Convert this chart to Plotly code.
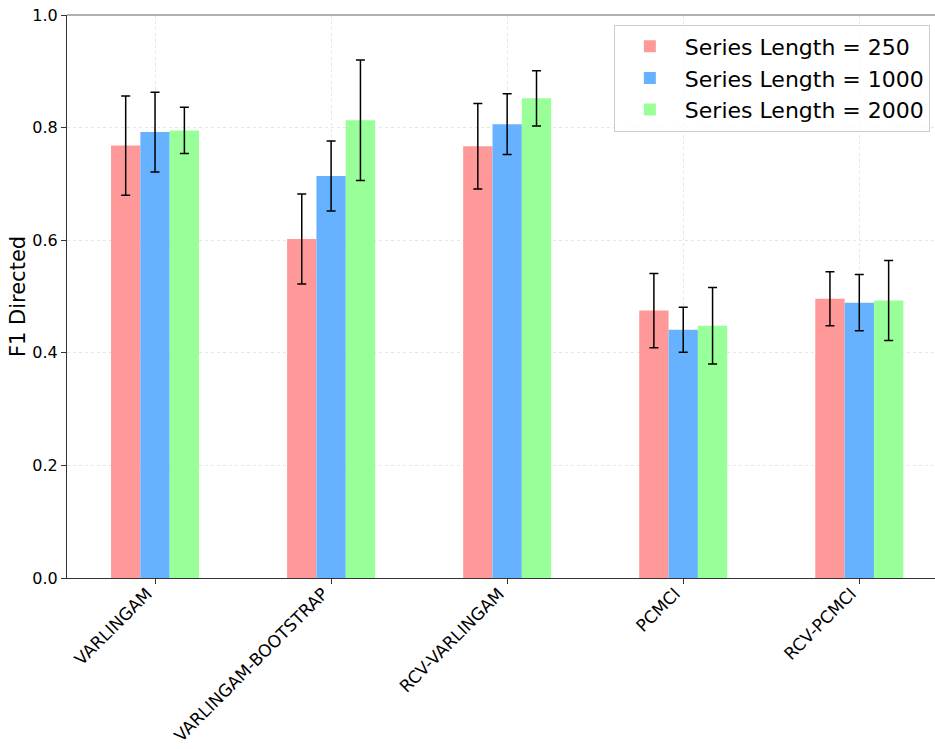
import plotly.graph_objects as go

categories = ["VARLINGAM", "VARLINGAM-BOOTSTRAP", "RCV-VARLINGAM", "PCMCI", "RCV-PCMCI"]
series_names = ["Series Length = 250", "Series Length = 1000", "Series Length = 2000"]
f1_250 = [0.768, 0.602, 0.767, 0.475, 0.496]
f1_1000 = [0.792, 0.714, 0.806, 0.441, 0.489]
f1_2000 = [0.795, 0.813, 0.852, 0.448, 0.493]
err_250 = [0.088, 0.080, 0.076, 0.066, 0.048]
err_1000 = [0.071, 0.062, 0.054, 0.040, 0.050]
err_2000 = [0.041, 0.107, 0.049, 0.068, 0.071]
colors = ["#FF9999", "#66B2FF", "#99FF99"]
y_ticks = [0.0, 0.2, 0.4, 0.6, 0.8, 1.0]

fig = go.Figure()
for name, vals, errs, col in zip(series_names, [f1_250, f1_1000, f1_2000],
                                 [err_250, err_1000, err_2000], colors):
    fig.add_trace(go.Bar(
        x=list(range(len(categories))), y=vals, name=name,
        marker=dict(color=col, line=dict(width=0)),
        error_y=dict(type="data", array=errs, visible=True, color="black",
                     thickness=1.5, width=4.5),
    ))

fig.update_layout(
    width=935, height=749,
    margin=dict(l=67, r=0, t=15, b=171, autoexpand=False),
    paper_bgcolor="white", plot_bgcolor="white",
    barmode="group", bargap=0.5, bargroupgap=0,
    font=dict(family="DejaVu Sans", size=16, color="black"),
    legend=dict(x=0.630, y=0.983, xanchor="left", yanchor="top",
                bgcolor="rgba(255,255,255,0.8)", bordercolor="#cccccc", borderwidth=1,
                font=dict(size=22, family="DejaVu Sans"), itemwidth=60),
    showlegend=True,
)
fig.update_xaxes(
    range=[-0.5, 4.43], tickmode="array", tickvals=list(range(len(categories))),
    ticktext=categories, tickangle=-45, tickfont=dict(size=17),
    automargin=False, ticklabeloverflow="allow",
    ticklabelstandoff=-7, ticklabelshift=-8,
    showgrid=True, gridcolor="#e6e6e6", griddash="dot", gridwidth=1,
    showline=True, linecolor="#333333", linewidth=1.2,
    ticks="outside", ticklen=5, tickcolor="#333333", zeroline=False,
)
fig.update_yaxes(
    range=[0, 1.0], tickmode="array", tickvals=y_ticks,
    ticktext=[f"{v:.1f}" for v in y_ticks], tickfont=dict(size=16),
    automargin=False, ticklabeloverflow="allow",
    title=dict(text="F1 Directed", font=dict(size=21), standoff=0),
    showgrid=True, gridcolor="#e6e6e6", griddash="dot", gridwidth=1,
    showline=True, linecolor="#333333", linewidth=1.2,
    ticks="outside", ticklen=5, tickcolor="#333333", zeroline=False,
)
fig.add_shape(type="line", xref="paper", yref="paper", x0=0, x1=1, y0=1, y1=1,
              line=dict(color="#999999", width=1.5))

fig.write_html("out.html", config={"displayModeBar": False},
               post_script="document.body.style.margin='0';")
